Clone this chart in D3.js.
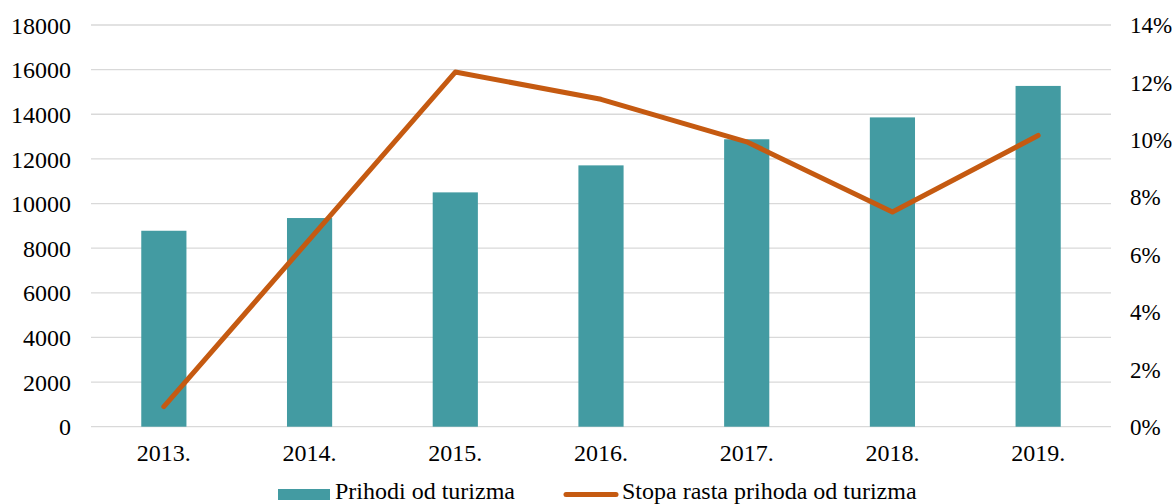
<!DOCTYPE html>
<html>
<head>
<meta charset="utf-8">
<script src="https://cdn.jsdelivr.net/npm/d3@7"></script>
<style>
  body { margin: 0; background: #fff; }
  svg text { font-family: "Liberation Serif", "Times New Roman", serif; fill: #000; }
</style>
</head>
<body>
<svg></svg>
<script>
const years = ['2013.', '2014.', '2015.', '2016.', '2017.', '2018.', '2019.'];
const prihodi = [8780, 9350, 10500, 11710, 12880, 13860, 15270];
const stopaRasta = [0.7, 6.53, 12.36, 11.41, 9.93, 7.48, 10.15];
const leftTicks = [0, 2000, 4000, 6000, 8000, 10000, 12000, 14000, 16000, 18000];
const rightTicks = [0, 2, 4, 6, 8, 10, 12, 14];

const width = 1174;
const height = 504;
const plotLeft = 91, plotRight = 1111, plotTop = 25, plotBottom = 426.7;
const fontSize = '24px';

const svg = d3.select('svg')
    .attr('width', width)
    .attr('height', height);

const x = d3.scaleBand()
    .domain(years)
    .range([plotLeft, plotRight])
    .paddingInner(0.69)
    .paddingOuter(0.345);

const yL = d3.scaleLinear().domain([0, 18000]).range([plotBottom, plotTop]);
const yR = d3.scaleLinear().domain([0, 14]).range([plotBottom, plotTop]);

// grid
svg.append('g')
  .selectAll('line')
  .data(leftTicks)
  .join('line')
    .attr('x1', plotLeft)
    .attr('x2', plotRight)
    .attr('y1', d => yL(d))
    .attr('y2', d => yL(d))
    .attr('stroke', '#d9d9d9')
    .attr('stroke-width', 1.3);

// left axis
const axL = svg.append('g')
    .attr('transform', `translate(${plotLeft - 20},0)`)
    .call(d3.axisLeft(yL).tickValues(leftTicks).tickSize(0).tickPadding(0).tickFormat(d3.format('d')));
axL.select('.domain').remove();
axL.selectAll('text').style('font-size', fontSize).attr('dy', '0.34em');

// right axis
const axR = svg.append('g')
    .attr('transform', `translate(${plotRight + 19},0)`)
    .call(d3.axisRight(yR).tickValues(rightTicks).tickSize(0).tickPadding(0).tickFormat(d => d + '%'));
axR.select('.domain').remove();
axR.selectAll('text').style('font-size', '23px').attr('dy', '0.34em');

// x axis
const axX = svg.append('g')
    .attr('transform', `translate(0,${plotBottom})`)
    .call(d3.axisBottom(x).tickSize(0).tickPadding(27));
axX.select('.domain').remove();
axX.selectAll('text').style('font-size', fontSize).attr('dy', '0.32em');

// bars
svg.append('g')
  .selectAll('rect')
  .data(prihodi)
  .join('rect')
    .attr('x', (d, i) => x(years[i]))
    .attr('width', x.bandwidth())
    .attr('y', d => yL(d))
    .attr('height', d => plotBottom - yL(d))
    .attr('fill', '#439ba2');

// line
const line = d3.line()
    .x((d, i) => x(years[i]) + x.bandwidth() / 2)
    .y(d => yR(d));

svg.append('path')
    .datum(stopaRasta)
    .attr('d', line)
    .attr('fill', 'none')
    .attr('stroke', '#c55a11')
    .attr('stroke-width', 5)
    .attr('stroke-linecap', 'round')
    .attr('stroke-linejoin', 'round');

// legend
const lg = svg.append('g');
lg.append('rect')
    .attr('x', 278).attr('y', 489)
    .attr('width', 52).attr('height', 11)
    .attr('fill', '#439ba2');
lg.append('text')
    .attr('x', 335).attr('y', 499)
    .style('font-size', fontSize)
    .text('Prihodi od turizma');
lg.append('line')
    .attr('x1', 566).attr('x2', 616)
    .attr('y1', 494.5).attr('y2', 494.5)
    .attr('stroke', '#c55a11')
    .attr('stroke-width', 5)
    .attr('stroke-linecap', 'round');
lg.append('text')
    .attr('x', 622).attr('y', 499)
    .style('font-size', fontSize)
    .text('Stopa rasta prihoda od turizma');
</script>
</body>
</html>
